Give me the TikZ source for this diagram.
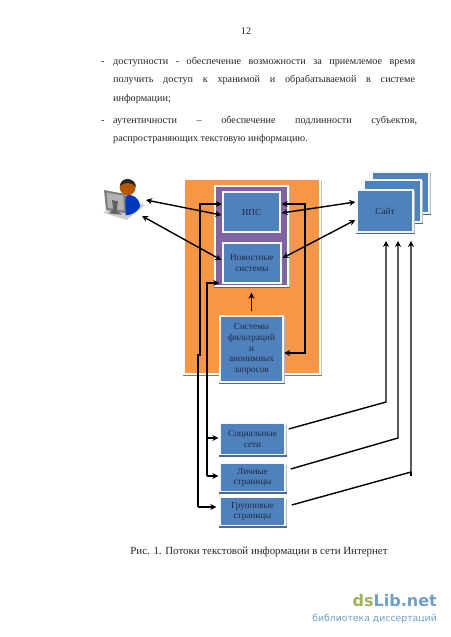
\documentclass[tikz,border=0pt]{standalone}
\usepackage{fontspec}
\setmainfont{Liberation Serif}
\newfontfamily\wmfont{DejaVu Sans}
\usetikzlibrary{arrows.meta}
\definecolor{orangeA}{HTML}{F79646}
\definecolor{purpleA}{HTML}{8064A2}
\definecolor{blueA}{HTML}{4F81BD}
\definecolor{txtA}{HTML}{1F2A44}
\definecolor{edgeA}{HTML}{F4F6F8}
\definecolor{shadeB}{HTML}{4A6A96}
\definecolor{shadeO}{HTML}{B0703A}
\definecolor{wmgreen}{HTML}{9BB35B}
\definecolor{wmblue}{HTML}{6F9FC8}
\newcommand{\boxshade}[2]{%
  \fill[#2] (#1.south west) rectangle ([shift={(0.8pt,-1.7pt)}]#1.south east);
  \fill[#2!45!white] ([yshift=-2pt]#1.north east) rectangle ([xshift=0.8pt]#1.south east);
}
\tikzset{
  flowbox/.style={rectangle,fill=blueA,draw=edgeA,line width=1.4pt,inner sep=0pt,align=center,
    font=\fontsize{9.2}{10.6}\selectfont,text=txtA},
  panelbox/.style={rectangle,draw=white,line width=1.4pt,inner sep=0pt},
  bi/.style={{Stealth[length=6pt,width=6pt]}-{Stealth[length=6pt,width=6pt]},line width=1.4pt,black},
  uni/.style={-{Stealth[length=6pt,width=6pt]},line width=1.4pt,black},
  plain/.style={line width=1.4pt,black},
  body/.style={inner sep=0pt,anchor=base west,font=\fontsize{10.2}{12}\selectfont,text=black!85},
}
\begin{document}
\begin{tikzpicture}[x=1pt,y=-1pt]
\useasboundingbox (0,0) rectangle (450,637);
\fill[white] (0,0) rectangle (450,637);
% page text
\node[inner sep=0pt,font=\fontsize{10.2}{12}\selectfont,text=black!85] (pagenum) at (246,31) {12};
\node[body] (d1) at (101,64) {-};
\node[body] (l1) at (113,64) {\makebox[302pt][s]{доступности - обеспечение возможности за приемлемое время}};
\node[body] (l2) at (113,82) {\makebox[302pt][s]{получить доступ к хранимой и обрабатываемой в системе}};
\node[body] (l3) at (113,101) {информации;};
\node[body] (d2) at (101,123) {-};
\node[body] (l4) at (113,123) {\makebox[304pt][s]{аутентичности – обеспечение подлинности субъектов,}};
\node[body] (l5) at (113,141) {распространяющих текстовую информацию.};
% panels
\node[panelbox,fill=orangeA,minimum width=136pt,minimum height=195pt] (outer) at (252,276.5) {};
\boxshade{outer}{shadeO}
\node[panelbox,fill=purpleA,minimum width=73pt,minimum height=100pt] (inner) at (251.5,236) {};
\boxshade{inner}{shadeB}
% site stack
\node[flowbox,minimum width=57pt,minimum height=41pt] (site3) at (400.5,192.5) {};
\boxshade{site3}{shadeB}
\node[flowbox,minimum width=57pt,minimum height=42pt] (site2) at (392.5,201) {};
\boxshade{site2}{shadeB}
\node[flowbox,minimum width=56pt,minimum height=42pt] (site) at (385,211) {Сайт};
\boxshade{site}{shadeB}
% boxes
\node[flowbox,minimum width=57pt,minimum height=40pt] (ips) at (251.5,212) {ИПС};
\node[flowbox,minimum width=58pt,minimum height=40pt] (news) at (252,263) {Новостные\\системы};
\node[flowbox,minimum width=63pt,minimum height=66pt] (filter) at (251.5,349) {Системы\\фильтраций\\и\\анонимных\\запросов};
\boxshade{filter}{shadeB}
\node[flowbox,minimum width=65pt,minimum height=31pt] (social) at (252.5,439) {Социальные\\сети};
\boxshade{social}{shadeB}
\node[flowbox,minimum width=65pt,minimum height=28pt] (personal) at (252.5,477.5) {Личные\\страницы};
\boxshade{personal}{shadeB}
\node[flowbox,minimum width=65pt,minimum height=28pt] (group) at (252.5,511.5) {Групповые\\страницы};
\boxshade{group}{shadeB}
% user icon
\begin{scope}[shift={(90,170)},x=0.3333pt,y=-0.3333pt]
  \fill[black!20] (40,128) -- (108,88) -- (165,105) -- (110,150) -- cycle;
  \fill[black!50] (42,60) -- (106,72) -- (108,130) -- (48,120) -- cycle;
  \fill[black!30] (50,68) -- (100,77) -- (102,122) -- (54,113) -- cycle;
  \fill[black!62] (66,90) -- (84,94) -- (80,122) -- (96,134) -- (56,130) -- (70,118) -- cycle;
  \fill[blue!70!cyan!75!black] (106,78) .. controls (125,68) and (150,85) .. (150,110) .. controls (140,130) and (120,135) .. (107,136) -- cycle;
  \fill[orange!70!black] (113,52) circle[radius=24];
  \fill[black!85] (90,47) .. controls (92,20) and (135,20) .. (138,50) .. controls (125,36) and (105,36) .. (90,47) -- cycle;
\end{scope}
\coordinate (userA) at (146,200);
\coordinate (userB) at (142,216);
% connectors
\draw[bi] (userA) -- ([shift={(-1pt,-3pt)}]ips.west);
\draw[bi] (userB) -- ([shift={(-1pt,3pt)}]news.west);
\draw[bi] ([shift={(1pt,-1pt)}]ips.east) -- ([shift={(-1pt,9pt)}]site.west);
\draw[bi] ([shift={(1pt,5pt)}]news.east) -- ([shift={(-1pt,-9pt)}]site.west);
\coordinate (cA) at (305,204);
\coordinate (cB) at (305,353);
\draw[bi] ([shift={(1pt,8pt)}]ips.east) -- (cA) -- (cB) -- ([shift={(0.5pt,-4pt)}]filter.east);
\draw[uni] ([yshift=4pt]filter.north) -- ([yshift=-6pt]inner.south);
% left bus
\coordinate (gA) at (198,507);
\coordinate (gB) at (198,355);
\coordinate (gC) at (200,355);
\coordinate (gD) at (200,204);
\draw[uni] (gA) -- (gB) -- (gC) -- (gD) -- ([shift={(-0.5pt,8pt)}]ips.west);
\coordinate (nA) at (207,283);
\coordinate (nB) at (207,476);
\coordinate (nC) at (207,438);
\draw[uni] (nB) -- (nA) -- ([yshift=-20pt,xshift=-3pt]news.west);
\draw[uni] (nB) -- ([xshift=-1pt,yshift=1.5pt]personal.west);
\draw[uni] (nC) -- ([xshift=-1pt,yshift=1pt]social.west);
\draw[uni] (gA) -- ([xshift=-3pt,yshift=4.5pt]group.west);
% right risers
\coordinate (sA) at (386,402);
\coordinate (sB) at (386,241);
\coordinate (pA) at (398,438);
\coordinate (pB) at (398,241);
\coordinate (qA) at (411,472);
\coordinate (qB) at (411,241);
\coordinate (qC) at (411,476);
\draw[uni] ([xshift=3pt,yshift=10pt]social.east) -- (sA) -- (sB);
\draw[uni] ([xshift=5pt,yshift=8.5pt]personal.east) -- (pA) -- (pB);
\draw[uni] ([xshift=6pt,yshift=6.5pt]group.east) -- (qA) -- (qB);
\draw[plain] (qA) -- (qC);
% caption + watermark
\node[inner sep=0pt,font=\fontsize{10.9}{12}\selectfont,text=black!85] (caption) at (259,552) {Рис. 1. Потоки текстовой информации в сети Интернет};
\node[inner sep=0pt,anchor=base east,font=\wmfont\bfseries\fontsize{16}{20}\selectfont] (wm1) at (437,606) {\textcolor{wmgreen}{ds}\textcolor{wmblue}{Lib.net}};
\node[inner sep=0pt,anchor=base east,font=\wmfont\fontsize{9.3}{11}\selectfont,text=wmblue] (wm2) at (437,621) {библиотека диссертаций};
\end{tikzpicture}
\end{document}
